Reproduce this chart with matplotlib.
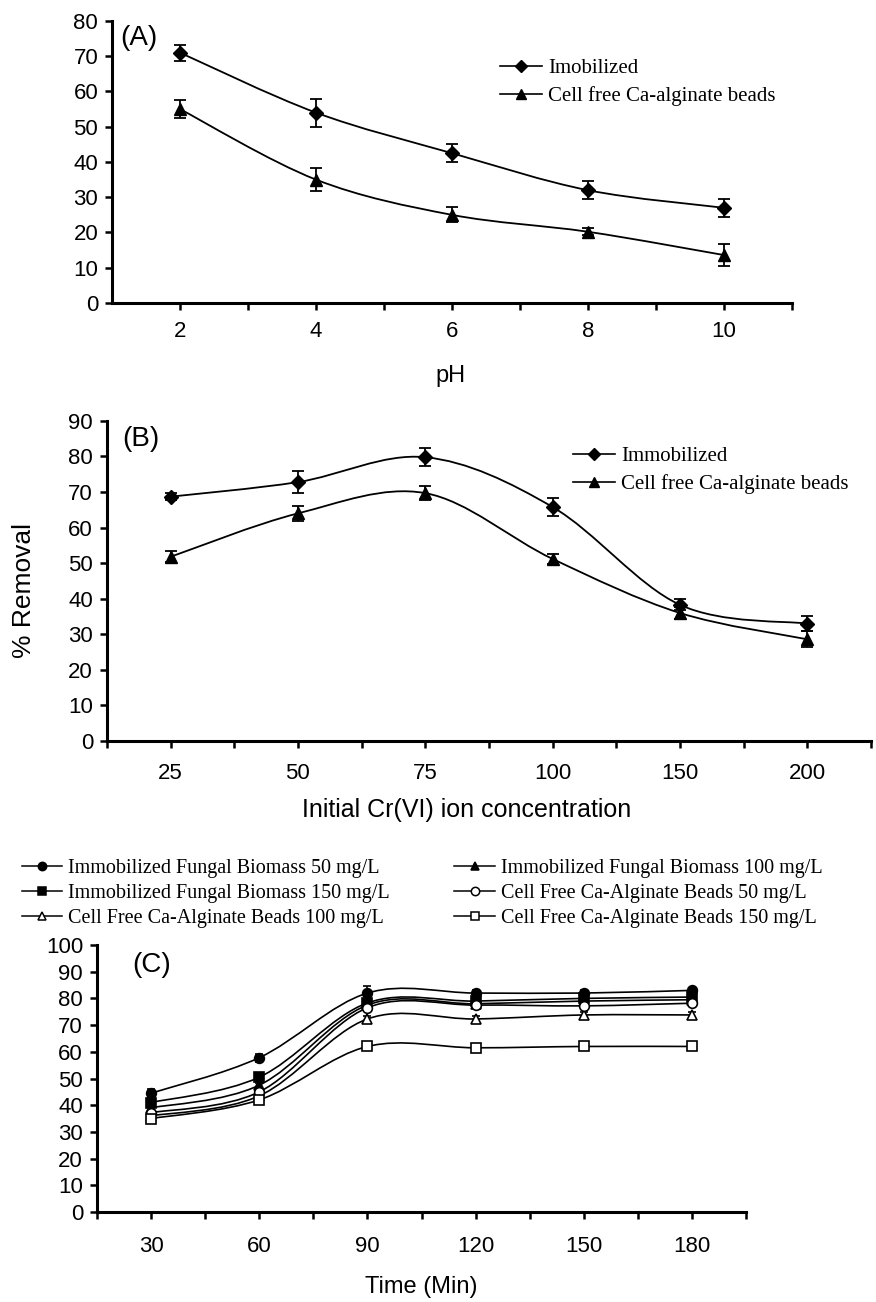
import numpy as np
import matplotlib
matplotlib.use("Agg")
import matplotlib.pyplot as plt
from matplotlib.path import Path
from matplotlib.patches import PathPatch
from matplotlib.lines import Line2D

plt.rcParams['font.family'] = ['Liberation Sans', 'DejaVu Sans']

# ---- Panel A: effect of pH ----
ph = [2, 4, 6, 8, 10]
a_immob = [71, 54, 42.5, 32, 27]
a_immob_err = [2.3, 4, 2.6, 2.6, 2.5]
a_free = [55, 35, 25, 20.2, 13.6]
a_free_err = [2.5, 3.3, 2.1, 1.0, 3.0]

# ---- Panel B: initial Cr(VI) concentration ----
conc_labels = ['25', '50', '75', '100', '150', '200']
b_immob = [68.7, 72.8, 79.8, 65.8, 38.3, 33.0]
b_immob_err = [1.0, 3.0, 2.6, 2.6, 1.6, 2.2]
b_free = [51.8, 64.0, 69.7, 51.2, 36.0, 28.6]
b_free_err = [1.5, 2.0, 2.0, 1.5, 1.6, 2.2]

# ---- Panel C: contact time ----
time_labels = ['30', '60', '90', '120', '150', '180']
c_ifb50 = [44.5, 57.8, 82.0, 82.0, 82.0, 83.0]
c_ifb100 = [39.0, 47.5, 77.5, 78.0, 79.0, 79.5]
c_ifb150 = [41.0, 50.5, 78.3, 79.0, 80.0, 80.5]
c_cf50 = [37.2, 45.0, 76.5, 77.5, 77.2, 78.2]
c_cf100 = [36.0, 43.5, 72.3, 72.3, 73.8, 73.8]
c_cf150 = [35.0, 42.0, 62.0, 61.5, 62.0, 62.0]
c_ifb50_err = [1.5, 1.5, 2.8, 1.0, 1.0, 1.0]
c_small_err = [1.0, 1.0, 1.0, 1.0, 1.0, 1.0]

SERIF = ['Liberation Serif', 'DejaVu Serif']


def smooth_line(ax, xs, ys, lw=1.3):
    """Excel style smoothed line through the points (cubic bezier segments)."""
    pts = np.column_stack([xs, ys]).astype(float)
    n = len(pts)
    verts = [tuple(pts[0])]
    codes = [Path.MOVETO]
    for i in range(n - 1):
        p0 = pts[i - 1] if i > 0 else pts[i]
        p1 = pts[i]
        p2 = pts[i + 1]
        p3 = pts[i + 2] if i + 2 < n else pts[i + 1]
        c1 = p1 + (p2 - p0) / 6.0
        c2 = p2 - (p3 - p1) / 6.0
        verts += [tuple(c1), tuple(c2), tuple(p2)]
        codes += [Path.CURVE4] * 3
    ax.add_patch(PathPatch(Path(verts, codes), fill=False, lw=lw,
                           edgecolor='black', transform=ax.transData, zorder=2))


def style_axes(ax, xpad=8):
    for s in ['top', 'right']:
        ax.spines[s].set_visible(False)
    for s in ['left', 'bottom']:
        ax.spines[s].set_linewidth(2.2)
    ax.tick_params(which='both', direction='out', length=5, width=1.8,
                   labelsize=16)
    ax.tick_params(axis='y', pad=5)
    ax.tick_params(axis='x', pad=xpad)


fig = plt.figure(figsize=(8.76, 13.02), dpi=100)

# ---------------- (A) ----------------
axA = fig.add_axes([0.1279, 0.7673, 0.776, 0.2166])
smooth_line(axA, ph, a_immob)
smooth_line(axA, ph, a_free)
axA.errorbar(ph, a_immob, yerr=a_immob_err, fmt='D', color='black', ms=7,
             capsize=4, elinewidth=1.3, capthick=1.3, zorder=3)
axA.errorbar(ph, a_free, yerr=a_free_err, fmt='^', color='black', ms=8,
             capsize=4, elinewidth=1.3, capthick=1.3, zorder=3)
axA.set_xlim(1, 11)
axA.set_ylim(0, 80)
axA.set_xticks([2, 4, 6, 8, 10])
axA.set_xticks([3, 5, 7, 9, 11], minor=True)
axA.set_yticks(np.arange(0, 81, 10))
style_axes(axA, xpad=8)
axA.text(0.012, 0.985, '(A)', transform=axA.transAxes, fontsize=20,
         va='top', ha='left')
fig.text(450 / 876, 1 - 376 / 1302, 'pH', fontsize=17, ha='center', va='center')
hA = [Line2D([], [], color='black', lw=1.2, marker='D', ms=6),
      Line2D([], [], color='black', lw=1.2, marker='^', ms=7)]
axA.legend(hA, ['Imobilized', 'Cell free Ca-alginate beads'],
           loc='upper left', bbox_to_anchor=(490 / 876, 1 - 48 / 1302),
           bbox_transform=fig.transFigure, frameon=False, handlelength=2.0,
           handletextpad=0.3, labelspacing=0.4, borderpad=0,
           prop={'family': SERIF, 'size': 15})

# ---------------- (B) ----------------
axB = fig.add_axes([0.1221, 0.4309, 0.872, 0.2458])
xb = np.arange(1, len(conc_labels) + 1)
smooth_line(axB, xb, b_immob)
smooth_line(axB, xb, b_free)
axB.errorbar(xb, b_immob, yerr=b_immob_err, fmt='D', color='black', ms=7,
             capsize=4, elinewidth=1.3, capthick=1.3, zorder=3)
axB.errorbar(xb, b_free, yerr=b_free_err, fmt='^', color='black', ms=8,
             capsize=4, elinewidth=1.3, capthick=1.3, zorder=3)
axB.set_xlim(0.5, len(conc_labels) + 0.5)
axB.set_ylim(0, 90)
axB.set_xticks(xb)
axB.set_xticklabels(conc_labels)
axB.set_xticks(np.arange(0.5, len(conc_labels) + 1, 1.0), minor=True)
axB.set_yticks(np.arange(0, 91, 10))
style_axes(axB, xpad=11)
axB.text(0.02, 0.985, '(B)', transform=axB.transAxes, fontsize=20,
         va='top', ha='left')
fig.text(24 / 876, 1 - 590 / 1302, '% Removal', fontsize=19, rotation=90,
         ha='center', va='center')
fig.text(467 / 876, 1 - 810 / 1302, 'Initial Cr(VI) ion concentration',
         fontsize=18, ha='center', va='center')
hB = [Line2D([], [], color='black', lw=1.2, marker='D', ms=6),
      Line2D([], [], color='black', lw=1.2, marker='^', ms=7)]
axB.legend(hB, ['Immobilized', 'Cell free Ca-alginate beads'],
           loc='upper left', bbox_to_anchor=(563 / 876, 1 - 436 / 1302),
           bbox_transform=fig.transFigure, frameon=False, handlelength=2.0,
           handletextpad=0.3, labelspacing=0.4, borderpad=0,
           prop={'family': SERIF, 'size': 15})

# ---------------- (C) ----------------
axC = fig.add_axes([0.1107, 0.0691, 0.741, 0.2051])
xc = np.arange(1, len(time_labels) + 1)
series_c = [
    (c_ifb50, c_ifb50_err, 'o', 'black', 'Immobilized Fungal Biomass 50 mg/L'),
    (c_ifb150, c_small_err, 's', 'black', 'Immobilized Fungal Biomass 150 mg/L'),
    (c_cf100, c_small_err, '^', 'white', 'Cell Free Ca-Alginate Beads 100 mg/L'),
    (c_ifb100, c_small_err, '^', 'black', 'Immobilized Fungal Biomass 100 mg/L'),
    (c_cf50, c_small_err, 'o', 'white', 'Cell Free Ca-Alginate Beads 50 mg/L'),
    (c_cf150, c_small_err, 's', 'white', 'Cell Free Ca-Alginate Beads 150 mg/L'),
]
handles = []
for vals, err, mk, fc, lab in series_c:
    smooth_line(axC, xc, vals, lw=1.2)
    axC.errorbar(xc, vals, yerr=err, fmt=mk, color='black', mfc=fc, mec='black',
                 ms=7, mew=1.2, capsize=3, elinewidth=1.1, capthick=1.1, zorder=3)
    handles.append(Line2D([], [], color='black', lw=1.1, marker=mk, mfc=fc,
                          mec='black', ms=6, mew=1.1))
axC.set_xlim(0.5, len(time_labels) + 0.5)
axC.set_ylim(0, 100)
axC.set_xticks(xc)
axC.set_xticklabels(time_labels)
axC.set_xticks(np.arange(0.5, len(time_labels) + 1, 1.0), minor=True)
axC.set_yticks(np.arange(0, 101, 10))
style_axes(axC, xpad=12)
axC.text(0.055, 0.975, '(C)', transform=axC.transAxes, fontsize=20,
         va='top', ha='left')
fig.text(421 / 876, 1 - 1287 / 1302, 'Time (Min)', fontsize=17,
         ha='center', va='center')
fig.legend(handles, [s[4] for s in series_c], ncol=2,
           loc='upper left', bbox_to_anchor=(12 / 876, 1 - 849 / 1302),
           frameon=False, handlelength=2.0, handletextpad=0.3,
           labelspacing=0.3, columnspacing=3.2, borderpad=0,
           prop={'family': SERIF, 'size': 14.5})

fig.savefig('out.png', dpi=100, facecolor='white')
